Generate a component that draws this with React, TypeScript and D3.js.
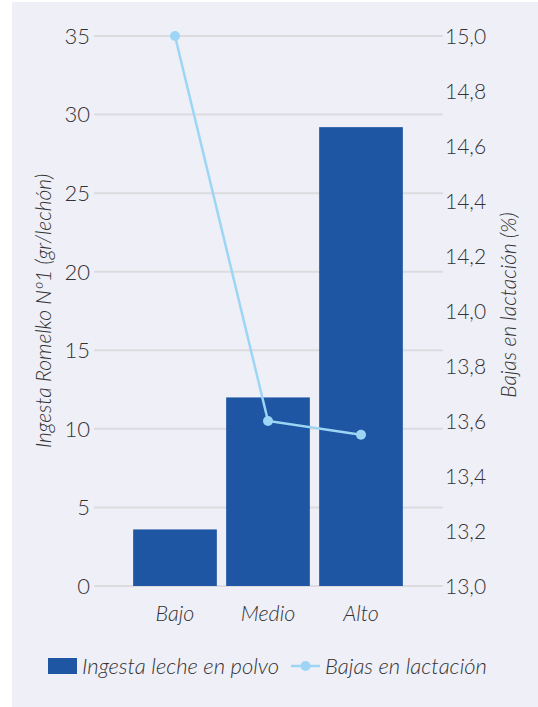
import React from 'react';
import * as d3 from 'd3';

const categories = ['Bajo', 'Medio', 'Alto'];
const ingesta = [3.6, 12.0, 29.2]; // gr/lechón
const bajas = [15.0, 13.6, 13.55]; // %
const leftTicks = [0, 5, 10, 15, 20, 25, 30, 35];
const rightTicks = [13.0, 13.2, 13.4, 13.6, 13.8, 14.0, 14.2, 14.4, 14.6, 14.8, 15.0];

const W = 538;
const H = 707;
const FONT = 'Lato, "Open Sans", sans-serif';
const TEXT = '#333333';
const BAR = '#1f56a3';
const LINE = '#9dd6f5';

const App: React.FC = () => {
  const top = 36;
  const bottom = 586;
  const gridX0 = 94;
  const gridX1 = 443;

  const x = d3.scaleBand<string>()
    .domain(categories)
    .range([128.5, 407.5])
    .paddingInner(0.1)
    .paddingOuter(0.05);

  const yLeft = d3.scaleLinear().domain([0, 35]).range([bottom, top]);
  const yRight = d3.scaleLinear().domain([13, 15]).range([bottom, top]);

  const fmt = (v: number) => v.toFixed(1).replace('.', ',');

  const line = d3.line<number>()
    .x((_, i) => (x(categories[i]) ?? 0) + x.bandwidth() / 2)
    .y(d => yRight(d));

  return (
    <svg width={W} height={H} style={{ position: 'absolute', left: 0, top: 0 }}>
      <rect x={12} y={2} width={W - 12} height={H - 2} fill="#efeff8" />

      {/* grid */}
      {leftTicks.map(t => (
        <line key={t} x1={gridX0} x2={gridX1} y1={yLeft(t)} y2={yLeft(t)}
          stroke="#dcdcdf" strokeWidth={2} />
      ))}

      {/* bars */}
      {categories.map((c, i) => (
        <rect key={c} x={x(c)} width={x.bandwidth()} y={yLeft(ingesta[i])}
          height={bottom - yLeft(ingesta[i])} fill={BAR} />
      ))}

      {/* line series */}
      <path d={line(bajas) ?? ''} fill="none" stroke={LINE} strokeWidth={2.5} />
      {bajas.map((v, i) => (
        <circle key={i} cx={(x(categories[i]) ?? 0) + x.bandwidth() / 2} cy={yRight(v)} r={5} fill={LINE} />
      ))}

      {/* left ticks */}
      {leftTicks.map(t => (
        <text key={t} x={90} y={yLeft(t)} dy="0.36em" textAnchor="end"
          fontFamily={FONT} fontWeight={300} fontSize={22} fill={TEXT}>{t}</text>
      ))}

      {/* right ticks */}
      {rightTicks.map(t => (
        <text key={t} x={445} y={yRight(t)} dy="0.36em" textAnchor="start"
          fontFamily={FONT} fontWeight={300} fontSize={21} fill={TEXT}>{fmt(t)}</text>
      ))}

      {/* category labels */}
      {categories.map(c => (
        <text key={c} x={(x(c) ?? 0) + x.bandwidth() / 2} y={621} textAnchor="middle"
          fontFamily={FONT} fontStyle="italic" fontWeight={300} fontSize={21.5} fill={TEXT}>{c}</text>
      ))}

      {/* axis titles */}
      <text transform="translate(51,311) rotate(-90)" textAnchor="middle"
        fontFamily={FONT} fontStyle="italic" fontWeight={300} fontSize={21} fill={TEXT}>
        Ingesta Romelko Nº1 (gr/lechón)
      </text>
      <text transform="translate(516,305) rotate(-90)" textAnchor="middle"
        fontFamily={FONT} fontStyle="italic" fontWeight={300} fontSize={21} fill={TEXT}>
        Bajas en lactación (%)
      </text>

      {/* legend */}
      <rect x={48} y={658} width={29} height={16} fill={BAR} />
      <text x={82} y={674} fontFamily={FONT} fontStyle="italic" fontWeight={300} fontSize={22} fill={TEXT}>
        Ingesta leche en polvo
      </text>
      <line x1={291} x2={320} y1={666} y2={666} stroke={LINE} strokeWidth={2.5} />
      <circle cx={305.5} cy={666} r={5} fill={LINE} />
      <text x={325} y={674} fontFamily={FONT} fontStyle="italic" fontWeight={300} fontSize={22} fill={TEXT}>
        Bajas en lactación
      </text>
    </svg>
  );
};

export default App;
